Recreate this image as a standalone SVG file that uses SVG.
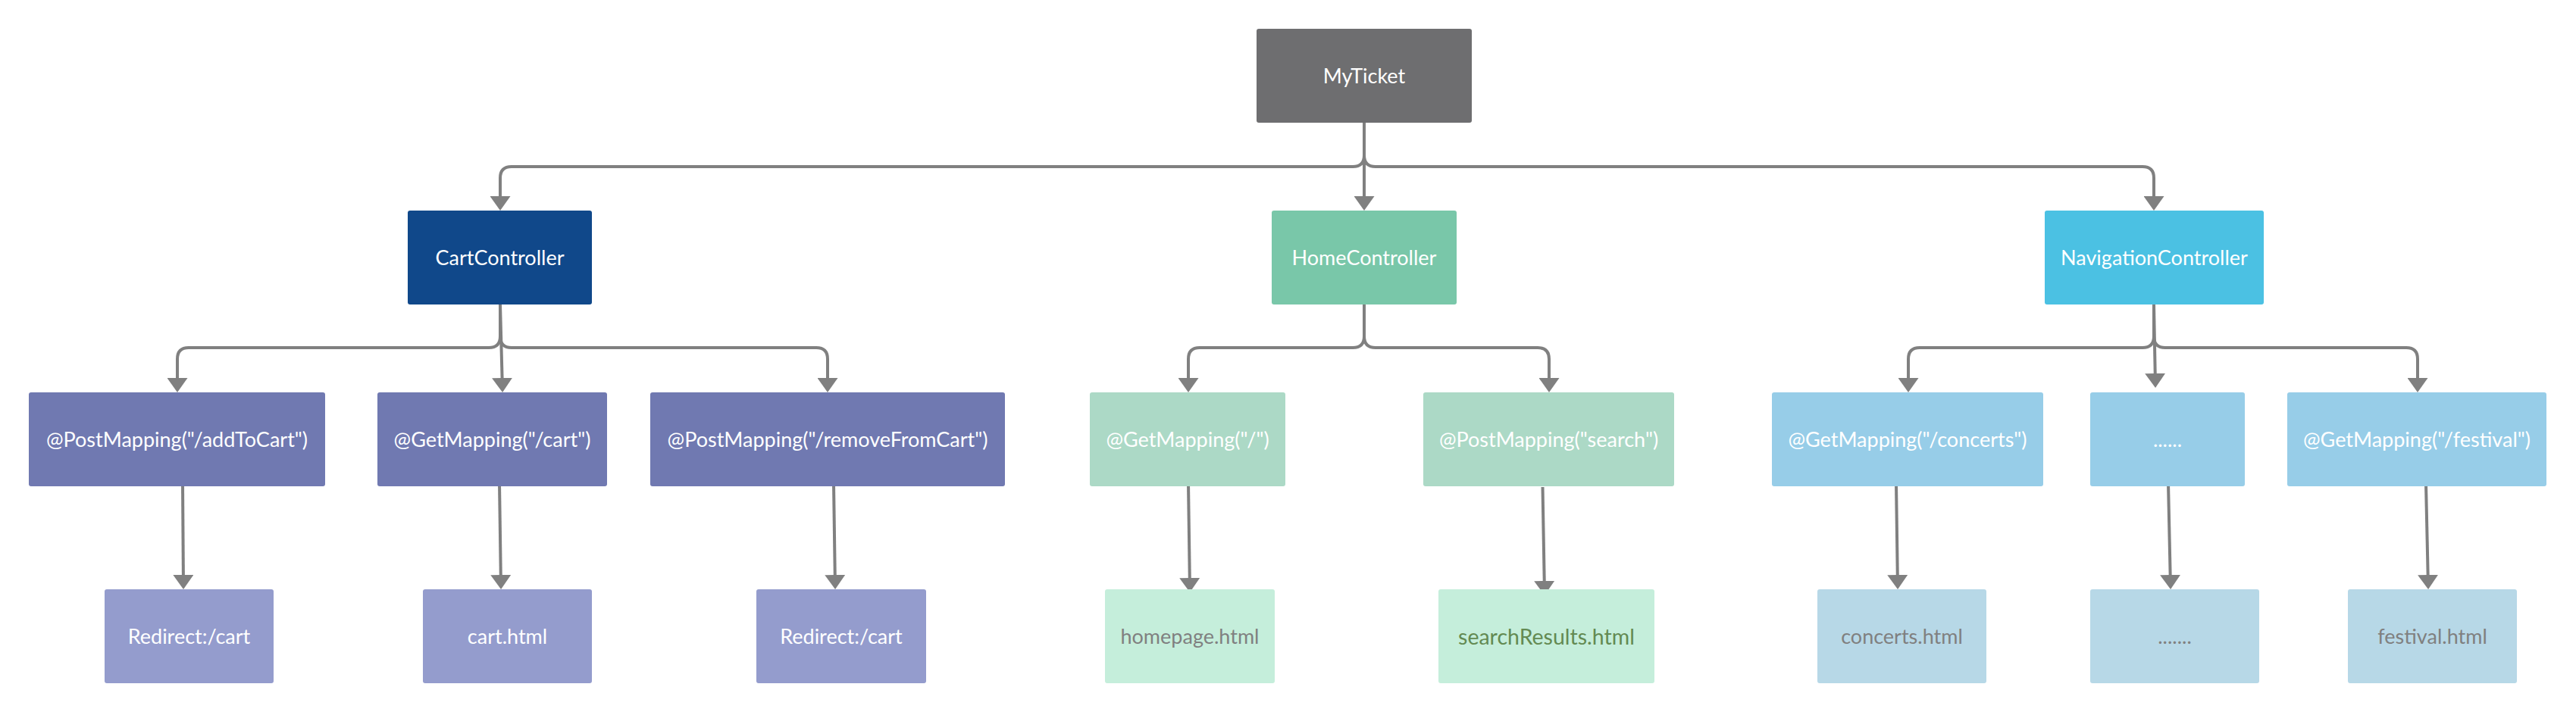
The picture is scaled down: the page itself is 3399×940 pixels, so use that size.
<svg xmlns="http://www.w3.org/2000/svg" width="3399" height="940" viewBox="0 0 3399 940">
<defs>
<style>
.box{rx:3;ry:3}
text{font-family:Lato,"Open Sans","Liberation Sans",sans-serif;font-size:27px;text-anchor:middle;fill:#ffffff}
.c0{fill:#6e6e70}
.c1{fill:#10488a}
.c2{fill:#7079b1}
.c3{fill:#949ccd}
.h1{fill:#79c7a9}
.h2{fill:#acd9c6}
.h3{fill:#c5eedb}
.n1{fill:#4bc1e3}
.n2{fill:#97cde8}
.n3{fill:#b7d8e7}
text.g{fill:#808080}
text.gr{fill:#638a52;font-size:28.5px}
.conn path{fill:none;stroke:#808080;stroke-width:4;marker-end:url(#arr)}
</style>
<marker id="arr" markerUnits="userSpaceOnUse" viewBox="0 0 19 27" refX="16" refY="13.5" markerWidth="19" markerHeight="27" orient="auto">
<path d="M0,0 L19,13.5 L0,27 z" fill="#808080"/>
</marker>
</defs>
<rect width="3399" height="940" fill="#ffffff"/>
<g class="conn" id="connectors">
<path d="M1800,162 V205 Q1800,220 1785,220 H675 Q660,220 660,235 V275"/>
<path d="M1800,162 V205 Q1800,220 1815,220 H2827 Q2842,220 2842,235 V275"/>
<path d="M1800,162 V275"/>
<path d="M660,402 V444 Q660,459 645,459 H249 Q234,459 234,474 V515"/>
<path d="M660,402 V444 Q660,459 675,459 H1077 Q1092,459 1092,474 V515"/>
<path d="M660,402 L663,515"/>
<path d="M1800,402 V444 Q1800,459 1785,459 H1583 Q1568,459 1568,474 V515"/>
<path d="M1800,402 V444 Q1800,459 1815,459 H2029 Q2044,459 2044,474 V515"/>
<path d="M2842,402 V444 Q2842,459 2827,459 H2533 Q2518,459 2518,474 V515"/>
<path d="M2842,402 V444 Q2842,459 2857,459 H3175 Q3190,459 3190,474 V515"/>
<path d="M2842,402 L2844,509"/>
<path d="M241,638 L242,775"/>
<path d="M659,638 L661,775"/>
<path d="M1100,638 L1102,775"/>
<path d="M1568,638 L1570,779"/>
<path d="M2035.5,643 L2038,783"/>
<path d="M2502,638 L2504,775"/>
<path d="M2861,638 L2864,775"/>
<path d="M3201,638 L3204,775"/>
</g>
<g id="MyTicket"><rect class="box c0" x="1658" y="38" width="284" height="124"/><text x="1800" y="109.5">MyTicket</text></g>
<g id="CartController"><rect class="box c1" x="538" y="278" width="243" height="124"/><text x="659.5" y="349.5">CartController</text></g>
<g id="HomeController"><rect class="box h1" x="1678" y="278" width="244" height="124"/><text x="1800" y="349.5">HomeController</text></g>
<g id="NavigationController"><rect class="box n1" x="2698" y="278" width="289" height="124"/><text x="2842.5" y="349.5">NavigationController</text></g>
<g id="addToCart"><rect class="box c2" x="38" y="518" width="391" height="124"/><text x="233.5" y="589.5">@PostMapping("/addToCart")</text></g>
<g id="getCart"><rect class="box c2" x="498" y="518" width="303" height="124"/><text x="649.5" y="589.5">@GetMapping("/cart")</text></g>
<g id="removeFromCart"><rect class="box c2" x="858" y="518" width="468" height="124"/><text x="1092" y="589.5">@PostMapping("/removeFromCart")</text></g>
<g id="getRoot"><rect class="box h2" x="1438" y="518" width="258" height="124"/><text x="1567" y="589.5">@GetMapping("/")</text></g>
<g id="postSearch"><rect class="box h2" x="1878" y="518" width="331" height="124"/><text x="2043.5" y="589.5">@PostMapping("search")</text></g>
<g id="getConcerts"><rect class="box n2" x="2338" y="518" width="358" height="124"/><text x="2517" y="589.5">@GetMapping("/concerts")</text></g>
<g id="moreMappings"><rect class="box n2" x="2758" y="518" width="204" height="124"/><text x="2860" y="589.5">......</text></g>
<g id="getFestival"><rect class="box n2" x="3018" y="518" width="342" height="124"/><text x="3189" y="589.5">@GetMapping("/festival")</text></g>
<g id="redirect1"><rect class="box c3" x="138" y="778" width="223" height="124"/><text x="249.5" y="849.5">Redirect:/cart</text></g>
<g id="cartHtml"><rect class="box c3" x="558" y="778" width="223" height="124"/><text x="669.5" y="849.5">cart.html</text></g>
<g id="redirect2"><rect class="box c3" x="998" y="778" width="224" height="124"/><text x="1110" y="849.5">Redirect:/cart</text></g>
<g id="homepageHtml"><rect class="box h3" x="1458" y="778" width="224" height="124"/><text class="g" x="1570" y="849.5">homepage.html</text></g>
<g id="searchResultsHtml"><rect class="box h3" x="1898" y="778" width="285" height="124"/><text class="gr" x="2040.5" y="850.5">searchResults.html</text></g>
<g id="concertsHtml"><rect class="box n3" x="2398" y="778" width="223" height="124"/><text class="g" x="2509.5" y="849.5">concerts.html</text></g>
<g id="moreHtml"><rect class="box n3" x="2758" y="778" width="223" height="124"/><text class="g" x="2869.5" y="849.5">.......</text></g>
<g id="festivalHtml"><rect class="box n3" x="3098" y="778" width="223" height="124"/><text class="g" x="3209.5" y="849.5">festival.html</text></g>
</svg>
